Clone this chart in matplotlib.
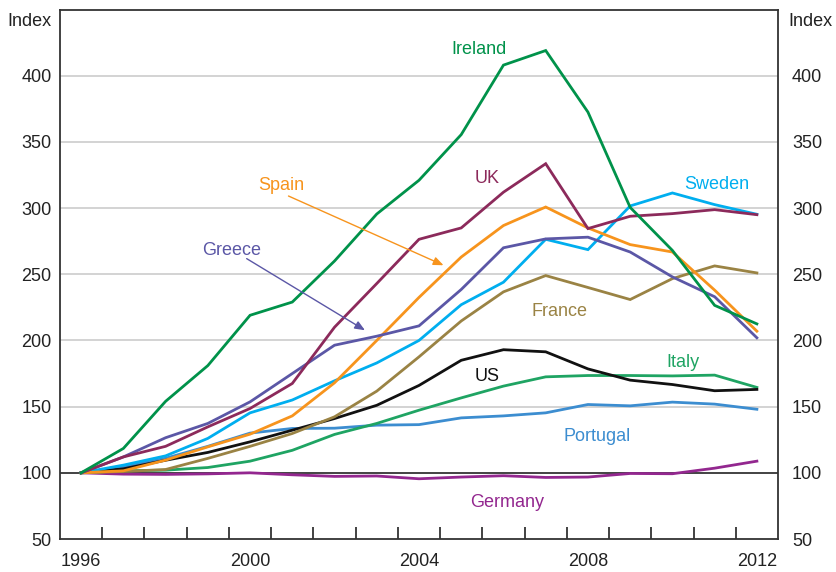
import matplotlib
matplotlib.use("Agg")
import matplotlib.pyplot as plt
import numpy as np

plt.rcParams['font.family'] = ['Liberation Sans', 'DejaVu Sans']

years = list(range(1996, 2013))

ireland  = [100, 118.4, 154, 181, 219, 229, 260, 295.5, 321, 355.5, 408, 419, 372.5, 300.5, 268, 226.5, 212.5]
uk       = [100, 112, 120, 134.7, 148.6, 167.5, 210, 243, 276.4, 285, 312, 333.5, 284.5, 293.8, 295.8, 298.8, 295]
greece   = [100, 112, 126.5, 137.3, 153.6, 175, 196.4, 203.2, 211, 238.5, 270, 276.7, 278, 266.8, 248, 233, 202]
spain    = [100, 101.5, 109.6, 119.6, 129.2, 143, 168, 200, 232.5, 263, 286.8, 300.8, 285, 272.4, 266.8, 238, 207]
sweden   = [100, 105.8, 112.8, 126, 145.3, 155, 169.5, 183, 200, 227, 244, 276.4, 268.6, 301.6, 311.4, 302.6, 295.3]
france   = [100, 101, 102.5, 110.9, 120, 129.7, 142.3, 161.7, 187.6, 214.7, 236.7, 249, 240, 230.9, 246.7, 256.3, 251]
us       = [100, 103, 109.5, 115.4, 123.4, 132.2, 141, 151, 166, 185, 193, 191.4, 178.5, 170, 166.7, 162, 163]
italy    = [100, 101.5, 102, 104, 108.8, 117, 129, 137.3, 147.3, 156.6, 165.5, 172.5, 173.5, 173.5, 173.2, 173.8, 164.5]
portugal = [100, 104.5, 111, 120, 130, 133.5, 133.7, 136, 136.4, 141.5, 143, 145.3, 151.6, 150.6, 153.4, 151.9, 148]
germany  = [100, 99, 98.8, 99.2, 100, 98.5, 97.3, 97.6, 95.5, 96.8, 97.8, 96.5, 96.8, 99.5, 99.3, 103.5, 108.8]

series = [
    ("Germany", germany, "#93278F"),
    ("Portugal", portugal, "#3C8DD0"),
    ("Italy", italy, "#1FA463"),
    ("US", us, "#111111"),
    ("France", france, "#9A8344"),
    ("Sweden", sweden, "#00AEEF"),
    ("Spain", spain, "#F7941D"),
    ("Greece", greece, "#5B57A6"),
    ("UK", uk, "#8C2A5B"),
    ("Ireland", ireland, "#00924A"),
]

y_ticks = [50, 100, 150, 200, 250, 300, 350, 400]
x_labels = [1996, 2000, 2004, 2008, 2012]

fig = plt.figure(figsize=(8.36, 5.72), dpi=100)
ax = fig.add_axes([60/836, 33/572, 718/836, 529.5/572])

ax.set_xlim(1995.5, 2012.5)
ax.set_ylim(50, 450)

for yv in [150, 200, 250, 300, 350, 400]:
    ax.axhline(yv, color="#c8c8c8", lw=1.1, zorder=0)
ax.axhline(100, color="#222222", lw=1.2, zorder=1)

for name, vals, col in series:
    ax.plot(years, vals, color=col, lw=2.0, zorder=3, solid_joinstyle='miter')

# labels
labels = [
    ("Ireland", 2005.42, 416.6, "#00924A"),
    ("UK", 2005.61, 319.2, "#8C2A5B"),
    ("Sweden", 2011.06, 314.2, "#00AEEF"),
    ("Spain", 2000.73, 313.9, "#F7941D"),
    ("Greece", 1999.57, 264.9, "#5B57A6"),
    ("France", 2007.33, 218.5, "#9A8344"),
    ("Italy", 2010.24, 180.0, "#1FA463"),
    ("US", 2005.62, 169.4, "#111111"),
    ("Portugal", 2008.21, 123.9, "#3C8DD0"),
    ("Germany", 2006.08, 74.3, "#93278F"),
]
for txt, x, y, col in labels:
    ax.text(x, y, txt, color=col, fontsize=13, ha="center", va="baseline", zorder=5)

ax.annotate("", xy=(2004.58, 256.8), xytext=(2000.91, 309.1),
            arrowprops=dict(arrowstyle="-|>,head_length=0.6,head_width=0.25",
                            color="#F7941D", lw=1.0, shrinkA=0, shrinkB=0))
ax.annotate("", xy=(2002.72, 207.7), xytext=(1999.92, 261.8),
            arrowprops=dict(arrowstyle="-|>,head_length=0.6,head_width=0.25",
                            color="#5B57A6", lw=1.0, shrinkA=0, shrinkB=0))

# axes styling
for sp in ax.spines.values():
    sp.set_color("#333333")
    sp.set_linewidth(1.3)

ax.set_yticks(y_ticks)
ax.set_yticklabels([str(v) for v in y_ticks])
ax.tick_params(axis="y", length=0, pad=6, labelsize=13, colors="#222222")

ax.set_xticks(x_labels)
ax.set_xticklabels([str(v) for v in x_labels])
ax.tick_params(axis="x", which="major", length=0, pad=10, labelsize=13, colors="#222222")
ax.set_xticks([y + 0.5 for y in years[:-1]], minor=True)
ax.tick_params(axis="x", which="minor", direction="in", length=9, width=1.3, color="#333333")

ax2 = ax.twinx()
ax2.set_ylim(50, 450)
ax2.set_yticks(y_ticks)
ax2.set_yticklabels([str(v) for v in y_ticks])
ax2.tick_params(axis="y", length=0, pad=10, labelsize=13, colors="#222222")
for sp in ax2.spines.values():
    sp.set_visible(False)

fig.text(51.7/836, 1 - 26/572, "Index", ha="right", va="baseline", fontsize=13, color="#222222")
fig.text(788/836, 1 - 26/572, "Index", ha="left", va="baseline", fontsize=13, color="#222222")

fig.savefig("out.png", dpi=100)
